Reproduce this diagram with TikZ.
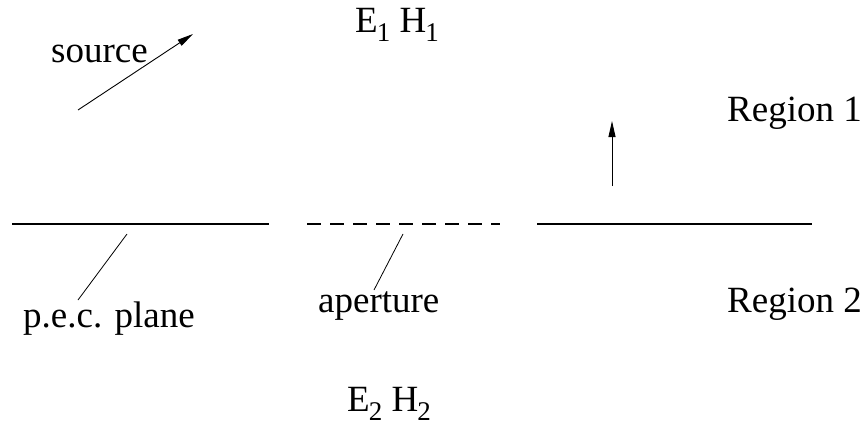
\documentclass[tikz,border=0pt]{standalone}
\usepackage{fontspec}
\setmainfont{Liberation Serif}
\usetikzlibrary{arrows.meta}
\newcommand{\lowsub}[1]{\raisebox{-9pt}{\fontsize{27}{27}\selectfont #1}}

\begin{document}
\begin{tikzpicture}[x=1pt, y=-1pt,
    lbl/.style={anchor=base west, inner sep=0pt, font=\rmfamily\fontsize{37}{44}\selectfont},
    plane/.style={line width=1.8pt},
    hole/.style={line width=1.8pt, dash pattern=on 14pt off 9pt},
    leader/.style={line width=0.8pt},
    vec/.style={line width=0.9pt, -{Triangle[length=16pt, width=7pt]}}]
    \useasboundingbox (0,0) rectangle (867,428);

    % Draw labels
    \node[lbl] (src) at (51,63) {source};
    \node[lbl] (f1) at (355,33) {E\kern-1pt\lowsub{1} H\kern-1pt\lowsub{1}};
    \node[lbl] (r1) at (727,121) {Region 1};
    \node[lbl] (pec) at (23,327) {p.e.c. plane};
    \node[lbl] (ap) at (318,312) {aperture};
    \node[lbl] (r2) at (727,312) {Region 2};
    \node[lbl] (f2) at (347,411) {E\kern-1pt\lowsub{2} H\kern-1pt\lowsub{2}};

    % Draw plane and aperture
    \coordinate (pl1) at (12,224);
    \coordinate (pl2) at (269,224);
    \coordinate (ap1) at (307,224);
    \coordinate (ap2) at (500,224);
    \coordinate (pr1) at (537,224);
    \coordinate (pr2) at (812,224);
    \draw[plane] (pl1) -- (pl2);
    \draw[hole] (ap1) -- (ap2);
    \draw[plane] (pr1) -- (pr2);

    % Draw leaders
    \coordinate (pecend) at (127,234);
    \coordinate (pectip) at (78,300);
    \coordinate (apend) at (403,234);
    \coordinate (aptip) at (374,290);
    \draw[leader] (pectip) -- (pecend);
    \draw[leader] (aptip) -- (apend);

    % Draw arrows
    \coordinate (s0) at (78,110);
    \coordinate (s1) at (193,34);
    \coordinate (n0) at (612,186);
    \coordinate (n1) at (612,121);
    \draw[vec] (s0) -- (s1);
    \draw[vec] (n0) -- (n1);
\end{tikzpicture}
\end{document}
